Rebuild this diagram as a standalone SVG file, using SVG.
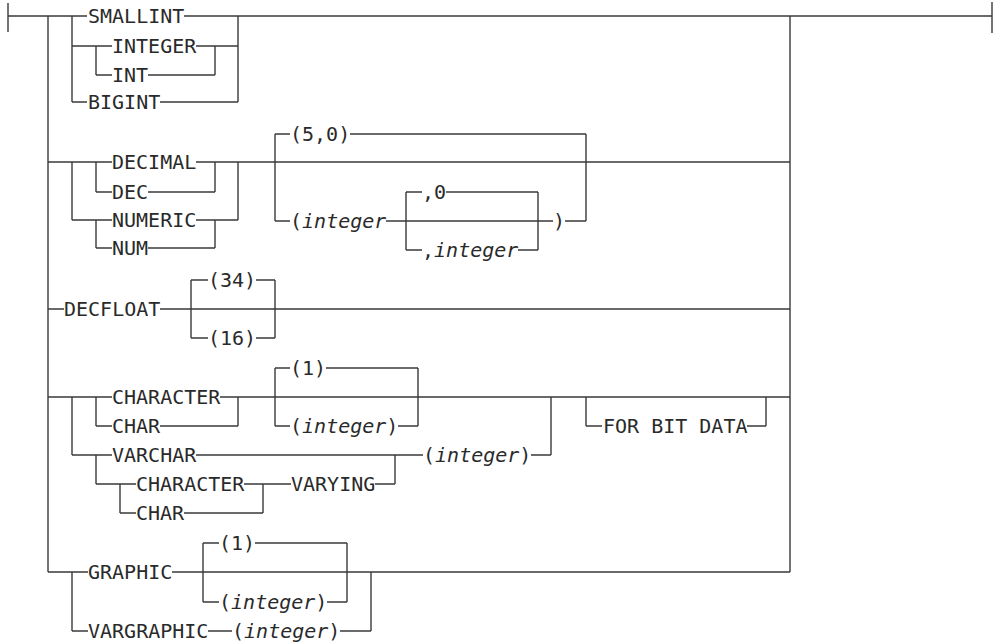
<svg xmlns="http://www.w3.org/2000/svg" width="995" height="644" viewBox="0 0 995 644">
<style>
.c{fill:none;stroke:#3a3a3a;stroke-width:1.4}
text{font-family:"DejaVu Sans Mono","Liberation Mono",monospace;font-size:20px;fill:#2a2a2a}
.i{font-style:italic}
</style>
<rect width="995" height="644" fill="#fff"/>
<g id="connectors" class="c">
<path d="M8 3V32M8 16H87M184 16H992M992 2V33M48 16V572M72 16V102M790 16V572
M72 46H112M196 46H238M96 46V75M96 75H112M148 75H215M215 46V75M72 102H87M160 102H238M238 16V102
M48 162H112M196 162H790M72 162V220M96 162V192M96 220V248
M96 192H112M148 192H215M215 162V192
M72 220H112M196 220H238M238 162V220
M96 248H112M148 248H215M215 220V248
M275 134V221M275 134H290M350 134H586M586 134V221
M275 221H290M386 221H553M565 221H586
M406 192V250M406 192H422M446 192H538M538 192V250
M406 250H422M518 250H538
M48 309H64M160 309H790
M191 280V338M191 280H208M256 280H275M275 280V338
M191 338H208M256 338H275
M48 397H112M220 397H790M72 397V455M96 397V426
M96 426H112M160 426H238M238 397V426
M275 368V426M275 368H290M326 368H418M418 368V426
M275 426H290M398 426H418
M551 397V455
M586 397V426M586 426H602M747 426H766M766 397V426
M72 455H112M196 455H423M531 455H551
M395 455V484M96 455V484
M96 484H136M244 484H291M375 484H395
M120 484V513M120 513H136M184 513H263M263 484V513
M48 572H88M172 572H790M72 572V631
M203 543V602M203 543H219M255 543H347M347 543V602
M203 602H219M327 602H347
M371 572V631
M72 631H88M208 631H232M340 631H371"/>
</g>
<g id="smallint"><text x="88" y="23.3">SMALLINT</text></g>
<g id="integer"><text x="112" y="53.3">INTEGER</text></g>
<g id="int"><text x="112" y="82.3">INT</text></g>
<g id="bigint"><text x="88" y="109.3">BIGINT</text></g>
<g id="decimal"><text x="112" y="169.3">DECIMAL</text></g>
<g id="dec"><text x="112" y="199.3">DEC</text></g>
<g id="numeric"><text x="112" y="227.3">NUMERIC</text></g>
<g id="num"><text x="112" y="255.3">NUM</text></g>
<g id="p50"><text x="290" y="141.3">(5,0)</text></g>
<g id="pinteger"><text x="290" y="228.3">(<tspan class="i">integer</tspan></text></g>
<g id="comma0"><text x="422" y="199.3">,0</text></g>
<g id="commainteger"><text x="422" y="257.3">,<tspan class="i">integer</tspan></text></g>
<g id="rparen"><text x="553" y="228.3">)</text></g>
<g id="decfloat"><text x="64" y="316.3">DECFLOAT</text></g>
<g id="p34"><text x="208" y="287.3">(34)</text></g>
<g id="p16"><text x="208" y="345.3">(16)</text></g>
<g id="character"><text x="112" y="404.3">CHARACTER</text></g>
<g id="char"><text x="112" y="433.3">CHAR</text></g>
<g id="p1a"><text x="290" y="375.3">(1)</text></g>
<g id="pinta"><text x="290" y="433.3">(<tspan class="i">integer</tspan>)</text></g>
<g id="forbitdata"><text x="603" y="433.3">FOR BIT DATA</text></g>
<g id="varchar"><text x="112" y="462.3">VARCHAR</text></g>
<g id="pintb"><text x="423" y="462.3">(<tspan class="i">integer</tspan>)</text></g>
<g id="character2"><text x="136" y="491.3">CHARACTER</text></g>
<g id="varying"><text x="291" y="491.3">VARYING</text></g>
<g id="char2"><text x="136" y="520.3">CHAR</text></g>
<g id="graphic"><text x="88" y="579.3">GRAPHIC</text></g>
<g id="p1b"><text x="219" y="550.3">(1)</text></g>
<g id="pintc"><text x="219" y="609.3">(<tspan class="i">integer</tspan>)</text></g>
<g id="vargraphic"><text x="88" y="638.3">VARGRAPHIC</text></g>
<g id="pintd"><text x="232" y="638.3">(<tspan class="i">integer</tspan>)</text></g>
</svg>
